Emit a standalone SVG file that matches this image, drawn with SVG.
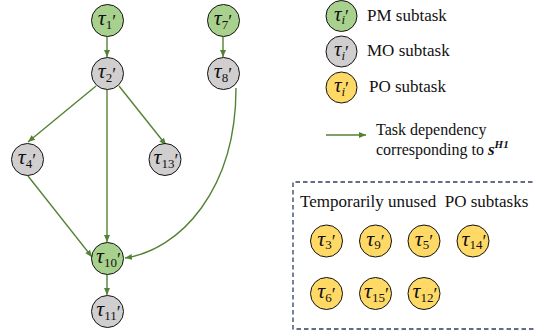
<svg xmlns="http://www.w3.org/2000/svg" width="535" height="335" viewBox="0 0 535 335">
<defs>
<marker id="ah" markerUnits="userSpaceOnUse" markerWidth="8" markerHeight="8" refX="7" refY="4" orient="auto">
<path d="M0,1 L7,4 L0,7 Z" fill="#548235"/>
</marker>
<style>
.pm{fill:#A9D18E;stroke:#111;stroke-width:1}
.mo{fill:#D0CECE;stroke:#111;stroke-width:1}
.po{fill:#FFD966;stroke:#111;stroke-width:1}
.e{fill:none;stroke:#548235;stroke-width:1.4;marker-end:url(#ah)}
</style>
</defs>
<rect width="535" height="335" fill="#fff"/>
<g id="edges">
<path class="e" d="M107,37 L107,57"/>
<path class="e" d="M223,37 L223,57"/>
<path class="e" d="M96,86 L28,142"/>
<path class="e" d="M119,86 L166,145"/>
<path class="e" d="M107,90 L107,242"/>
<path class="e" d="M28,176 L92,257"/>
<path class="e" d="M236,88 C236,190 180,250 125,258"/>
<path class="e" d="M107,275 L107,295"/>
</g>
<g id="n1"><circle class="pm" cx="107.5" cy="20.5" r="16"/><text font-family="'Liberation Serif', serif" font-style="italic" font-size="22" fill="#111" text-anchor="middle" x="107" y="25">τ<tspan font-size="13" font-style="normal" dy="3.5">1</tspan><tspan font-size="18" font-style="normal" dy="-1">′</tspan></text></g>
<g id="n7"><circle class="pm" cx="223.5" cy="20.5" r="16"/><text font-family="'Liberation Serif', serif" font-style="italic" font-size="22" fill="#111" text-anchor="middle" x="223" y="25">τ<tspan font-size="13" font-style="normal" dy="3.5">7</tspan><tspan font-size="18" font-style="normal" dy="-1">′</tspan></text></g>
<g id="n2"><circle class="mo" cx="107.5" cy="73.5" r="16"/><text font-family="'Liberation Serif', serif" font-style="italic" font-size="22" fill="#111" text-anchor="middle" x="107" y="78">τ<tspan font-size="13" font-style="normal" dy="3.5">2</tspan><tspan font-size="18" font-style="normal" dy="-1">′</tspan></text></g>
<g id="n8"><circle class="mo" cx="223.5" cy="73.5" r="16"/><text font-family="'Liberation Serif', serif" font-style="italic" font-size="22" fill="#111" text-anchor="middle" x="223" y="78">τ<tspan font-size="13" font-style="normal" dy="3.5">8</tspan><tspan font-size="18" font-style="normal" dy="-1">′</tspan></text></g>
<g id="n4"><circle class="mo" cx="27.5" cy="159.5" r="16"/><text font-family="'Liberation Serif', serif" font-style="italic" font-size="22" fill="#111" text-anchor="middle" x="27" y="164">τ<tspan font-size="13" font-style="normal" dy="3.5">4</tspan><tspan font-size="18" font-style="normal" dy="-1">′</tspan></text></g>
<g id="n13"><circle class="mo" cx="165" cy="159.5" r="16"/><text font-family="'Liberation Serif', serif" font-style="italic" font-size="22" fill="#111" text-anchor="middle" x="166" y="164">τ<tspan font-size="13" font-style="normal" dy="3.5">13</tspan><tspan font-size="18" font-style="normal" dy="-1">′</tspan></text></g>
<g id="n10"><circle class="pm" cx="107.5" cy="258.5" r="16"/><text font-family="'Liberation Serif', serif" font-style="italic" font-size="22" fill="#111" text-anchor="middle" x="108.5" y="263">τ<tspan font-size="13" font-style="normal" dy="3.5">10</tspan><tspan font-size="18" font-style="normal" dy="-1">′</tspan></text></g>
<g id="n11"><circle class="mo" cx="107.5" cy="311.5" r="16"/><text font-family="'Liberation Serif', serif" font-style="italic" font-size="22" fill="#111" text-anchor="middle" x="108.5" y="316">τ<tspan font-size="13" font-style="normal" dy="3.5">11</tspan><tspan font-size="18" font-style="normal" dy="-1">′</tspan></text></g>
<g id="legend">
<g id="leg-pm"><circle class="pm" cx="341.5" cy="16" r="15.5"/><text font-family="'Liberation Serif', serif" font-style="italic" font-size="21" fill="#111" text-anchor="middle" x="341.5" y="20.5">τ<tspan font-size="13" dy="3.5">i</tspan><tspan font-size="18" font-style="normal" dy="-1">′</tspan></text><text font-family="'Liberation Serif', serif" font-size="17" fill="#111" x="367" y="21">PM subtask</text></g>
<g id="leg-mo"><circle class="mo" cx="341.5" cy="51.5" r="15.5"/><text font-family="'Liberation Serif', serif" font-style="italic" font-size="21" fill="#111" text-anchor="middle" x="341.5" y="56">τ<tspan font-size="13" dy="3.5">i</tspan><tspan font-size="18" font-style="normal" dy="-1">′</tspan></text><text font-family="'Liberation Serif', serif" font-size="17" fill="#111" x="367" y="56">MO subtask</text></g>
<g id="leg-po"><circle class="po" cx="341.5" cy="87.5" r="15.5"/><text font-family="'Liberation Serif', serif" font-style="italic" font-size="21" fill="#111" text-anchor="middle" x="341.5" y="92">τ<tspan font-size="13" dy="3.5">i</tspan><tspan font-size="18" font-style="normal" dy="-1">′</tspan></text><text font-family="'Liberation Serif', serif" font-size="17" fill="#111" x="369" y="92">PO subtask</text></g>
<g id="leg-edge"><path class="e" d="M326,135 L366,135"/>
<text font-family="'Liberation Serif', serif" font-size="16" fill="#111" x="376" y="135">Task dependency</text>
<text font-family="'Liberation Serif', serif" font-size="16" fill="#111" x="376" y="155">corresponding to <tspan font-weight="bold" font-style="italic" font-size="17">s</tspan><tspan font-weight="bold" font-style="italic" font-size="11" dy="-7">H1</tspan></text></g>
</g>
<g id="unused">
<path d="M540,182 H293 V329 H540" fill="none" stroke="#2F3F5F" stroke-width="1.3" stroke-dasharray="4.5,3"/>
<text font-family="'Liberation Serif', serif" font-size="17" fill="#111" x="300" y="207">Temporarily unused&#160; PO subtasks</text>
<g id="n3"><circle class="po" cx="326.5" cy="241" r="16"/><text font-family="'Liberation Serif', serif" font-style="italic" font-size="22" fill="#111" text-anchor="middle" x="326.5" y="245.5">τ<tspan font-size="13" font-style="normal" dy="3.5">3</tspan><tspan font-size="18" font-style="normal" dy="-1">′</tspan></text></g>
<g id="n9"><circle class="po" cx="375.5" cy="241" r="16"/><text font-family="'Liberation Serif', serif" font-style="italic" font-size="22" fill="#111" text-anchor="middle" x="375.5" y="245.5">τ<tspan font-size="13" font-style="normal" dy="3.5">9</tspan><tspan font-size="18" font-style="normal" dy="-1">′</tspan></text></g>
<g id="n5"><circle class="po" cx="424" cy="241" r="16"/><text font-family="'Liberation Serif', serif" font-style="italic" font-size="22" fill="#111" text-anchor="middle" x="424" y="245.5">τ<tspan font-size="13" font-style="normal" dy="3.5">5</tspan><tspan font-size="18" font-style="normal" dy="-1">′</tspan></text></g>
<g id="n14"><circle class="po" cx="473" cy="241" r="16"/><text font-family="'Liberation Serif', serif" font-style="italic" font-size="22" fill="#111" text-anchor="middle" x="474" y="245.5">τ<tspan font-size="13" font-style="normal" dy="3.5">14</tspan><tspan font-size="18" font-style="normal" dy="-1">′</tspan></text></g>
<g id="n6"><circle class="po" cx="326.5" cy="293.5" r="16"/><text font-family="'Liberation Serif', serif" font-style="italic" font-size="22" fill="#111" text-anchor="middle" x="326.5" y="298">τ<tspan font-size="13" font-style="normal" dy="3.5">6</tspan><tspan font-size="18" font-style="normal" dy="-1">′</tspan></text></g>
<g id="n15"><circle class="po" cx="375.5" cy="293.5" r="16"/><text font-family="'Liberation Serif', serif" font-style="italic" font-size="22" fill="#111" text-anchor="middle" x="376.5" y="298">τ<tspan font-size="13" font-style="normal" dy="3.5">15</tspan><tspan font-size="18" font-style="normal" dy="-1">′</tspan></text></g>
<g id="n12"><circle class="po" cx="424" cy="293.5" r="16"/><text font-family="'Liberation Serif', serif" font-style="italic" font-size="22" fill="#111" text-anchor="middle" x="425" y="298">τ<tspan font-size="13" font-style="normal" dy="3.5">12</tspan><tspan font-size="18" font-style="normal" dy="-1">′</tspan></text></g>
</g>
</svg>
